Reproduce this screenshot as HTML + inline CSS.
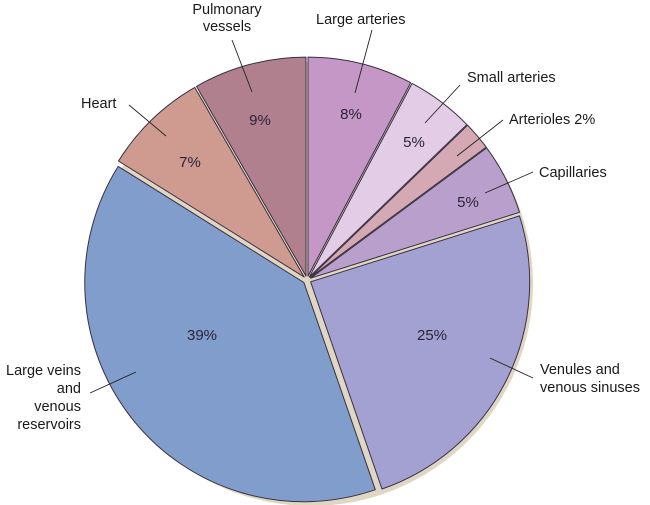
<!DOCTYPE html>
<html><head><meta charset="utf-8"><style>
body{margin:0;background:#fff;}
svg{display:block;}
text{font-family:"Liberation Sans",sans-serif;font-size:14.5px;fill:#1a1a1a;}
.p{fill:#2a2438;font-size:15px;}
</style></head><body>
<svg width="650" height="505" viewBox="0 0 650 505">
<circle cx="311" cy="284" r="222" fill="#e0d6c4"/>
<circle cx="307" cy="280" r="12" fill="#e0d6c4"/>
<g stroke="#3a3040" stroke-width="1" stroke-linejoin="round">
<path d="M308,276.1 L308,57.1 A219,219 0 0 1 410.7,82.7 Z" fill="#c497c6"/>
<path d="M309.4,276.8 L412.1,83.4 A219,219 0 0 1 466.9,124.6 Z" fill="#e2cce6"/>
<path d="M310.1,277.4 L467.6,125.2 A219,219 0 0 1 486.2,147.1 Z" fill="#d4a9b4"/>
<path d="M310.6,278.2 L486.7,147.9 A219,219 0 0 1 519.5,212.3 Z" fill="#b9a0cc"/>
<path d="M310.6,281.8 L519.5,215.9 A219,219 0 0 1 382,489 Z" fill="#a3a0d2"/>
<path d="M303.9,282.5 L375.3,489.7 A219,219 0 0 1 118.2,166.4 Z" fill="#819dcc"/>
<path d="M304.2,277.1 L118.5,161 A219,219 0 0 1 194.7,87.4 Z" fill="#cf9a90"/>
<path d="M306,276.1 L196.5,86.4 A219,219 0 0 1 306,57.1 Z" fill="#b0808e"/>
</g>
<g stroke="#222" stroke-width="0.9">
<line x1="232" y1="40" x2="252" y2="92"/>
<line x1="372" y1="30" x2="355" y2="93"/>
<line x1="460" y1="85" x2="425" y2="123"/>
<line x1="503" y1="120" x2="457" y2="156"/>
<line x1="533" y1="172" x2="485" y2="193"/>
<line x1="533" y1="378" x2="490" y2="358"/>
<line x1="90" y1="393" x2="136" y2="372"/>
<line x1="129" y1="105" x2="166" y2="136"/>
</g>
<text x="227" y="14" text-anchor="middle">Pulmonary</text>
<text x="227" y="31" text-anchor="middle">vessels</text>
<text x="316" y="24">Large arteries</text>
<text x="467" y="82">Small arteries</text>
<text x="509" y="124">Arterioles 2%</text>
<text x="539" y="177">Capillaries</text>
<text x="540" y="374">Venules and</text>
<text x="540" y="392">venous sinuses</text>
<text x="81" y="375" text-anchor="end">Large veins</text>
<text x="81" y="393" text-anchor="end">and</text>
<text x="81" y="411" text-anchor="end">venous</text>
<text x="81" y="429" text-anchor="end">reservoirs</text>
<text x="81" y="108">Heart</text>
<text class="p" x="260" y="125" text-anchor="middle">9%</text>
<text class="p" x="351" y="119" text-anchor="middle">8%</text>
<text class="p" x="414" y="147" text-anchor="middle">5%</text>
<text class="p" x="468" y="207" text-anchor="middle">5%</text>
<text class="p" x="190" y="167" text-anchor="middle">7%</text>
<text class="p" x="202" y="340" text-anchor="middle">39%</text>
<text class="p" x="432" y="340" text-anchor="middle">25%</text>
</svg>
</body></html>
